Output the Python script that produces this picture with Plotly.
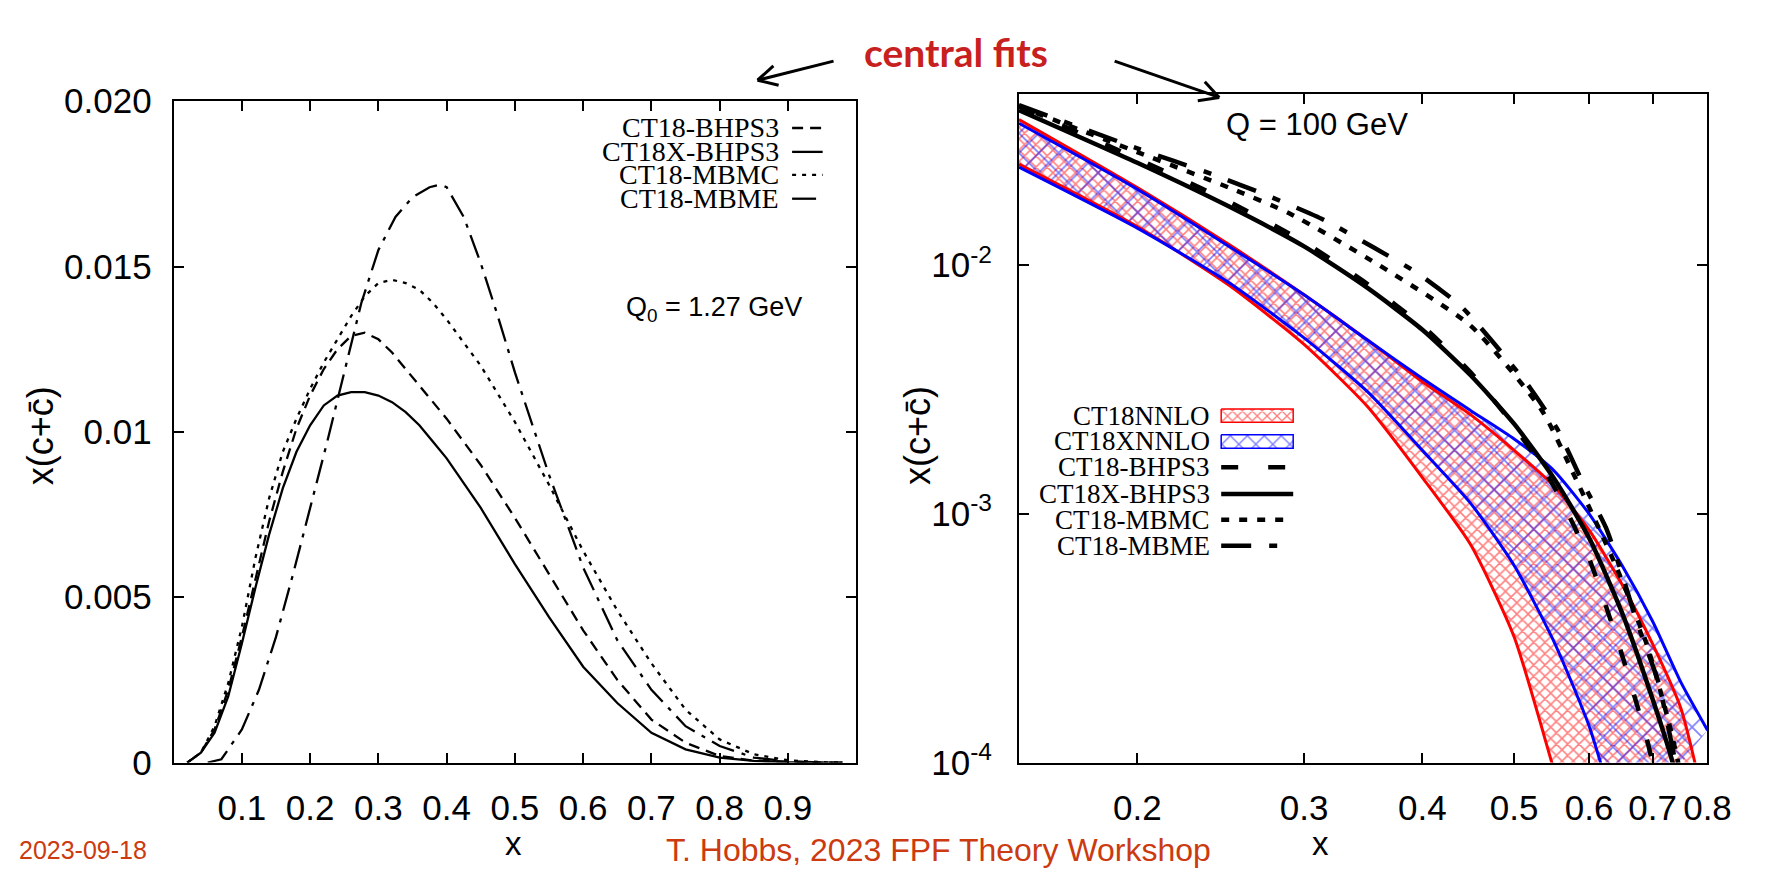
import math
import plotly.graph_objects as go

W, H = 1767, 880

# ---------------- Left panel: Q0 = 1.27 GeV (linear) ----------------
L_x = [0.02, 0.04, 0.06, 0.08, 0.10, 0.12, 0.14, 0.16, 0.18, 0.20, 0.22, 0.24, 0.26, 0.28,
       0.30, 0.32, 0.34, 0.36, 0.38, 0.40, 0.45, 0.50, 0.55, 0.60, 0.65, 0.70, 0.75, 0.80,
       0.85, 0.90, 0.95, 0.98]
L_ct18_bhps3 = [0.0, 0.0003, 0.0010, 0.0022, 0.0038, 0.0056, 0.0073, 0.0088, 0.0101, 0.0111,
                0.0119, 0.0125, 0.0129, 0.0130, 0.0128, 0.0124, 0.0119, 0.0114, 0.0109, 0.0104,
                0.0090, 0.0074, 0.0057, 0.0040, 0.0025, 0.0013, 0.0006, 0.0002, 0.00006,
                0.00002, 0.0, 0.0]
L_ct18x_bhps3 = [0.0, 0.0003, 0.0009, 0.0020, 0.0036, 0.0053, 0.0069, 0.0083, 0.0094, 0.0102,
                 0.0108, 0.0111, 0.0112, 0.0112, 0.0111, 0.0109, 0.0106, 0.0102, 0.0097, 0.0092,
                 0.0077, 0.0060, 0.0044, 0.0029, 0.0018, 0.0009, 0.0004, 0.00015, 0.00005,
                 0.00001, 0.0, 0.0]
L_ct18_mbmc = [0.0, 0.0003, 0.0011, 0.0024, 0.0041, 0.0062, 0.0080, 0.0094, 0.0104, 0.0113,
               0.0121, 0.0128, 0.0135, 0.0141, 0.0145, 0.0146, 0.0145, 0.0143, 0.0139, 0.0134,
               0.0120, 0.0103, 0.0084, 0.0064, 0.0046, 0.0030, 0.0016, 0.0007, 0.00025,
               0.00007, 0.00001, 0.0]
L_x_mbme = [0.05, 0.07, 0.10, 0.125, 0.15, 0.175, 0.20, 0.225, 0.25, 0.275, 0.30, 0.325, 0.35,
            0.375, 0.39, 0.40, 0.425, 0.45, 0.475, 0.50, 0.55, 0.60, 0.65, 0.70, 0.75, 0.80,
            0.85, 0.90, 0.95, 0.98]
L_ct18_mbme = [0.0, 0.0001, 0.0010, 0.0022, 0.0038, 0.0057, 0.0077, 0.0097, 0.0118, 0.0139,
               0.0155, 0.0165, 0.0171, 0.0174, 0.01748, 0.0174, 0.0165, 0.0151, 0.0135, 0.0118,
               0.0087, 0.0059, 0.0037, 0.0022, 0.0011, 0.0005, 0.00015, 0.00004, 0.0, 0.0]

L_xticks = [0.1, 0.2, 0.3, 0.4, 0.5, 0.6, 0.7, 0.8, 0.9]
L_yticks = [0, 0.005, 0.01, 0.015, 0.020]
L_yticktext = ["0", "0.005", "0.01", "0.015", "0.020"]

# ---------------- Right panel: Q = 100 GeV (log-log) ----------------
R_x_nnlo_hi = [0.15, 0.2, 0.25, 0.3, 0.35, 0.4, 0.45, 0.5, 0.55, 0.6, 0.65, 0.7, 0.75, 0.8]
R_nnlo_hi = [0.0385, 0.0205, 0.0121, 0.0076, 0.0050, 0.0034, 0.0025, 0.0018, 0.0013, 0.00086,
             0.00052, 0.0003, 0.000165, 0.00006]
R_x_nnlo_lo = [0.15, 0.2, 0.25, 0.3, 0.35, 0.4, 0.45, 0.5, 0.55, 0.6]
R_nnlo_lo = [0.0255, 0.0143, 0.0083, 0.0048, 0.0027, 0.0014, 0.00075, 0.00032, 0.000095, 0.00003]

R_x_xnnlo_hi = [0.15, 0.2, 0.25, 0.3, 0.35, 0.4, 0.45, 0.5, 0.55, 0.6, 0.65, 0.7, 0.75, 0.8]
R_xnnlo_hi = [0.0372, 0.0202, 0.0119, 0.0076, 0.0050, 0.0035, 0.0026, 0.0020, 0.0015, 0.0010,
              0.00062, 0.00037, 0.00021, 0.000135]
R_x_xnnlo_lo = [0.15, 0.2, 0.25, 0.3, 0.35, 0.4, 0.45, 0.5, 0.55, 0.6, 0.65]
R_xnnlo_lo = [0.0248, 0.0141, 0.0085, 0.0051, 0.0031, 0.0018, 0.00110, 0.00062, 0.00031,
              0.00014, 0.00005]

R_x_bhps3 = [0.15, 0.2, 0.25, 0.3, 0.35, 0.4, 0.45, 0.5, 0.55, 0.6, 0.65, 0.69, 0.70, 0.72]
R_ct18_bhps3 = [0.0435, 0.0268, 0.018, 0.0124, 0.0084, 0.0057, 0.0037, 0.00225, 0.0013,
                0.00066, 0.00027, 0.000125, 0.0001, 0.00007]
R_x_xbhps3 = [0.15, 0.2, 0.25, 0.3, 0.35, 0.4, 0.45, 0.5, 0.55, 0.6, 0.65, 0.7, 0.735, 0.75]
R_ct18x_bhps3 = [0.042, 0.0258, 0.0172, 0.0119, 0.0081, 0.0055, 0.0036, 0.0023, 0.0014, 0.0008,
                 0.0004, 0.00018, 0.0001, 0.00007]
R_x_mbmc = [0.15, 0.2, 0.25, 0.29, 0.36, 0.45, 0.535, 0.58, 0.64, 0.69, 0.73, 0.745, 0.76]
R_ct18_mbmc = [0.0435, 0.0285, 0.0205, 0.0161, 0.0100, 0.0057, 0.0026, 0.0014, 0.00062, 0.0003,
               0.00014, 0.0001, 0.00007]
R_x_mbme = [0.15, 0.2, 0.24, 0.275, 0.315, 0.355, 0.395, 0.44, 0.475, 0.52, 0.555, 0.59, 0.625,
            0.65, 0.675, 0.71, 0.74, 0.76]
R_ct18_mbme = [0.044, 0.0295, 0.0232, 0.0190, 0.0152, 0.0118, 0.0093, 0.0068, 0.0049, 0.0032,
               0.0022, 0.00135, 0.00088, 0.00057, 0.00036, 0.00021, 0.0001, 0.00006]

R_xticks = [0.2, 0.3, 0.4, 0.5, 0.6, 0.7, 0.8]
R_yticks = [1e-4, 1e-3, 1e-2]
R_yticktext = ["10<sup>-4</sup>", "10<sup>-3</sup>", "10<sup>-2</sup>"]

# ---------------- style ----------------
SANS = "Liberation Sans, Arial, sans-serif"
SERIF = "Liberation Serif, Times New Roman, serif"
RED = "#ff0000"
BLUE = "#0000ff"

def px(x):
    return x / W

def py(y):
    return 1 - y / H

L_dom_x = [px(176), px(868)]
L_dom_y = [py(777), py(85)]
R_dom_x = [px(1033), px(1731)]
R_dom_y = [py(777), py(77)]

fig = go.Figure()

left_dash = {
    "bhps3": "11px,7px",
    "xbhps3": "solid",
    "mbmc": "4px,6px",
    "mbme": "24px,8px,4px,8px",
}
fig.add_trace(go.Scatter(x=L_x, y=L_ct18x_bhps3, mode="lines", xaxis="x", yaxis="y",
                         line=dict(color="black", width=2.3, dash=left_dash["xbhps3"])))
fig.add_trace(go.Scatter(x=L_x, y=L_ct18_bhps3, mode="lines", xaxis="x", yaxis="y",
                         line=dict(color="black", width=2.3, dash=left_dash["bhps3"])))
fig.add_trace(go.Scatter(x=L_x, y=L_ct18_mbmc, mode="lines", xaxis="x", yaxis="y",
                         line=dict(color="black", width=2.3, dash=left_dash["mbmc"])))
fig.add_trace(go.Scatter(x=L_x_mbme, y=L_ct18_mbme, mode="lines", xaxis="x", yaxis="y",
                         line=dict(color="black", width=2.3, dash=left_dash["mbme"])))

def band(xh, yh, xl, yl, color, size, solidity):
    xs = list(xh) + list(reversed(xl)) + [xh[0]]
    ys = list(yh) + list(reversed(yl)) + [yh[0]]
    return go.Scatter(x=xs, y=ys, mode="lines", xaxis="x2", yaxis="y2", fill="toself",
                      line=dict(width=0, color="rgba(0,0,0,0)"),
                      fillcolor="rgba(0,0,0,0)",
                      fillpattern=dict(shape="x", fgcolor=color, bgcolor="rgba(0,0,0,0)",
                                       size=size, solidity=solidity, fillmode="overlay"))

fig.add_trace(band(R_x_nnlo_hi, R_nnlo_hi, R_x_nnlo_lo, R_nnlo_lo, RED, 8, 0.35))
fig.add_trace(band(R_x_xnnlo_hi, R_xnnlo_hi, R_x_xnnlo_lo, R_xnnlo_lo, BLUE, 14, 0.22))
for xs, ys, c in [(R_x_nnlo_hi, R_nnlo_hi, RED), (R_x_nnlo_lo, R_nnlo_lo, RED),
                  (R_x_xnnlo_hi, R_xnnlo_hi, BLUE), (R_x_xnnlo_lo, R_xnnlo_lo, BLUE)]:
    fig.add_trace(go.Scatter(x=xs, y=ys, mode="lines", xaxis="x2", yaxis="y2",
                             line=dict(color=c, width=3, shape="spline", smoothing=0.6)))

right_dash = {
    "bhps3": "17px,30px",
    "xbhps3": "solid",
    "mbmc": "8px,10px",
    "mbme": "30px,18px,8px,18px",
}
for xs, ys, key in [(R_x_xbhps3, R_ct18x_bhps3, "xbhps3"), (R_x_bhps3, R_ct18_bhps3, "bhps3"),
                    (R_x_mbmc, R_ct18_mbmc, "mbmc"), (R_x_mbme, R_ct18_mbme, "mbme")]:
    fig.add_trace(go.Scatter(x=xs, y=ys, mode="lines", xaxis="x2", yaxis="y2",
                             line=dict(color="black", width=4.5, dash=right_dash[key],
                                       shape="spline", smoothing=0.6)))

# legend swatches for the hatched bands (overlay pixel axes)
R_leg_rows = [414, 441, 468, 496, 523, 550]
sw_x0, sw_x1 = 1238, 1311
for row, c, s, sol in [(R_leg_rows[0], RED, 7, 0.35), (R_leg_rows[1], BLUE, 12, 0.22)]:
    fig.add_trace(go.Scatter(x=[sw_x0, sw_x1, sw_x1, sw_x0, sw_x0],
                             y=[row - 7, row - 7, row + 7, row + 7, row - 7],
                             mode="lines", xaxis="x3", yaxis="y3", fill="toself",
                             line=dict(color=c, width=1.5), fillcolor="rgba(0,0,0,0)",
                             fillpattern=dict(shape="x", fgcolor=c, bgcolor="rgba(0,0,0,0)",
                                              size=s, solidity=sol, fillmode="overlay")))

axis_common = dict(showline=True, linecolor="black", linewidth=2, mirror="allticks",
                   ticks="inside", ticklen=10, tickwidth=1.5, tickcolor="black",
                   showgrid=False, zeroline=False,
                   tickfont=dict(family=SANS, size=35, color="black"))

fig.update_layout(
    width=W, height=H, margin=dict(l=0, r=0, t=0, b=0),
    paper_bgcolor="white", plot_bgcolor="rgba(0,0,0,0)", showlegend=False,
    xaxis=dict(domain=L_dom_x, range=[0, 1], tickvals=L_xticks,
               ticktext=[f"{v:.1f}" for v in L_xticks], anchor="y", ticklabelstandoff=13,
               **axis_common),
    yaxis=dict(domain=L_dom_y, range=[0, 0.020], tickvals=L_yticks, ticktext=L_yticktext,
               anchor="x", ticklabelstandoff=13, **axis_common),
    xaxis2=dict(domain=R_dom_x, type="log", range=[math.log10(0.15), math.log10(0.8)],
                tickvals=R_xticks, ticktext=[f"{v:.1f}" for v in R_xticks], anchor="y2",
                ticklabelstandoff=13, **axis_common),
    yaxis2=dict(domain=R_dom_y, type="log", range=[-4, -1.31], tickvals=R_yticks,
                ticktext=R_yticktext, anchor="x2", ticklabelstandoff=18, **axis_common),
    xaxis3=dict(domain=[0, 1], range=[0, W], visible=False, anchor="y3", fixedrange=True),
    yaxis3=dict(domain=[0, 1], range=[H, 0], visible=False, anchor="x3", fixedrange=True),
)

annotations = []
shapes = []

def text(x, y, s, size, family=SANS, color="black", xanchor="center", yanchor="middle",
         angle=0, bold=False):
    if bold:
        s = f"<b>{s}</b>"
    annotations.append(dict(x=px(x), y=py(y), xref="paper", yref="paper", text=s,
                            showarrow=False, xanchor=xanchor, yanchor=yanchor, textangle=angle,
                            font=dict(family=family, size=size, color=color)))

def seg(x0, y0, x1, y1, width=2.5, dash="solid", color="black"):
    shapes.append(dict(type="line", xref="paper", yref="paper", x0=px(x0), y0=py(y0),
                       x1=px(x1), y1=py(y1), line=dict(color=color, width=width, dash=dash)))

# left legend
L_leg_rows = [113, 138, 162, 187]
L_leg_names = ["CT18-BHPS3", "CT18X-BHPS3", "CT18-MBMC", "CT18-MBME"]
L_leg_keys = ["bhps3", "xbhps3", "mbmc", "mbme"]
for row, name, key in zip(L_leg_rows, L_leg_names, L_leg_keys):
    text(792, row, name, 28, family=SERIF, xanchor="right")
    seg(803, row, 834, row, width=2.3, dash=left_dash[key])
text(724, 302, "Q<sub>0</sub> = 1.27 GeV", 27)

# right legend
R_leg_names = ["CT18NNLO", "CT18XNNLO", "CT18-BHPS3", "CT18X-BHPS3", "CT18-MBMC", "CT18-MBME"]
for row, name in zip(R_leg_rows, R_leg_names):
    text(1229, row, name, 27, family=SERIF, xanchor="right")
for row, key in zip(R_leg_rows[2:], ["bhps3", "xbhps3", "mbmc", "mbme"]):
    seg(sw_x0, row, sw_x1, row, width=4.5, dash=right_dash[key])
text(1335, 109, "Q = 100 GeV", 31)

# axis titles
text(41, 435, "x(c+c\u0304)", 36, angle=-90)
text(930, 435, "x(c+c\u0304)", 36, angle=-90)
text(521, 862, "x", 33)
text(1339, 862, "x", 33)

# header and arrows
text(969, 34, "central fits", 39, family="Lato, sans-serif", color="#c8201e", bold=True)

def arrow(x0, y0, x1, y1, head=22, spread=0.5):
    seg(x0, y0, x1, y1, width=3)
    ang = math.atan2(y0 - y1, x0 - x1)
    for s in (-spread, spread):
        seg(x1, y1, x1 + head * math.cos(ang + s), y1 + head * math.sin(ang + s), width=3)

arrow(845, 43, 768, 63)
arrow(1130, 43, 1236, 81)

# footer
text(17, 868, "2023-09-18", 25, color="#cc3a10", xanchor="left")
text(673, 868, "T. Hobbs, 2023 FPF Theory Workshop", 32, color="#cc3a10", xanchor="left")

fig.update_layout(annotations=annotations, shapes=shapes)
fig.write_html("out.html")
